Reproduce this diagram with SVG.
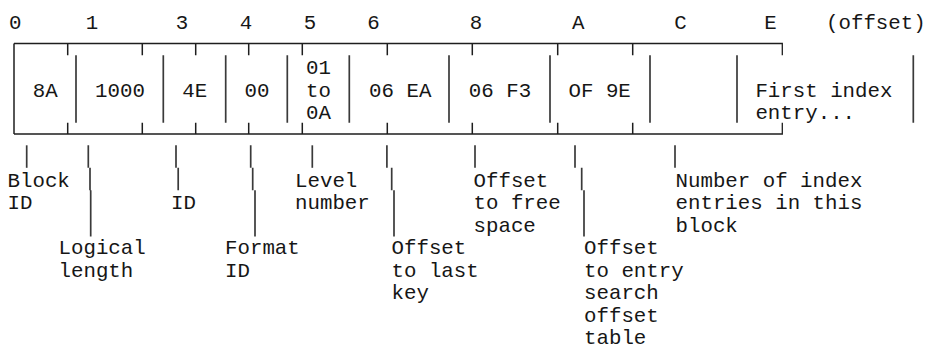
<svg xmlns="http://www.w3.org/2000/svg" width="927" height="350" viewBox="0 0 927 350">
<style>
text{font-family:"Liberation Mono","DejaVu Sans Mono",monospace;font-size:20.77px;fill:#161616}
.c{text-anchor:middle}
.h{stroke:#1e1e1e;stroke-width:1.3;fill:none}
.v{stroke:#3a3a3a;stroke-width:1.7;fill:none}
.t{stroke:#1e1e1e;stroke-width:1.5;fill:none}
.ld{stroke:#3a3a3a;stroke-width:1.7;fill:none}
</style>
<rect width="927" height="350" fill="#fff"/>
<g id="offsets">
<text class="c" x="15.3" y="28.8">0</text>
<text class="c" x="92" y="28.8">1</text>
<text class="c" x="182" y="28.8">3</text>
<text class="c" x="246" y="28.8">4</text>
<text class="c" x="310" y="28.8">5</text>
<text class="c" x="373.5" y="28.8">6</text>
<text class="c" x="476" y="28.8">8</text>
<text class="c" x="578.3" y="28.8">A</text>
<text class="c" x="680.5" y="28.8">C</text>
<text class="c" x="770.5" y="28.8">E</text>
<text x="826" y="28.8">(offset)</text>
</g>
<g id="frame">
<path class="h" d="M14 43.5H782.3V55.3M14 134H782.3V122.8"/>
<path class="t" d="M14 43.5V134"/>
<path class="t" d="M67.7 43.5V55.3M142.3 43.5V55.3M195.7 43.5V55.3M248.7 43.5V55.3M302.3 43.5V55.3M387.3 43.5V55.3M472.3 43.5V55.3M557.7 43.5V55.3M632.7 43.5V55.3"/>
<path class="t" d="M67.7 122.8V134M142.3 122.8V134M195.7 122.8V134M248.7 122.8V134M302.3 122.8V134M387.3 122.8V134M472.3 122.8V134M557.7 122.8V134M632.7 122.8V134"/>
<path class="v" d="M76 55.3V122.8M163.3 55.3V122.8M225.7 55.3V122.8M287.3 55.3V122.8M349.3 55.3V122.8M449 55.3V122.8M550 55.3V122.8M650 55.3V122.8M737 55.3V122.8M913.3 55.3V122.8"/>
</g>
<g id="f-block-id"><text x="32.7" y="96.7">8A</text></g>
<g id="f-logical-length"><text x="95" y="96.7">1000</text></g>
<g id="f-id"><text x="182.2" y="96.7">4E</text></g>
<g id="f-format-id"><text x="244.5" y="96.7">00</text></g>
<g id="f-level"><text x="306" y="74.2">01</text><text x="306" y="96.7">to</text><text x="306" y="119.2">0A</text></g>
<g id="f-last-key"><text x="369.1" y="96.7">06 EA</text></g>
<g id="f-free-space"><text x="468.8" y="96.7">06 F3</text></g>
<g id="f-search-table"><text x="568.5" y="96.7">OF 9E</text></g>
<g id="f-entries"></g>
<g id="f-first-entry"><text x="755.4" y="96.7">First index</text><text x="755.4" y="119.2">entry...</text></g>
<g id="connectors">
<path class="ld" d="M26.7 145.3V167.8"/>
<path class="ld" d="M88.3 145.3V167.8M90 167.8V190.3M90.7 190.3V236.5"/>
<path class="ld" d="M176 145.3V167.8M178.2 167.8V190.3"/>
<path class="ld" d="M250.7 145.3V167.8M252.7 167.8V190.3M255 190.3V236.5"/>
<path class="ld" d="M312.3 145.3V167.8"/>
<path class="ld" d="M386.9 145.3V167.8M391.7 167.8V190.3M394 190.3V236.5"/>
<path class="ld" d="M475 145.3V167.8"/>
<path class="ld" d="M575 145.3V167.8M581.7 167.8V190.3M584 190.3V236.5"/>
<path class="ld" d="M675 145.3V167.8"/>
</g>
<g id="l-block-id"><text x="7.5" y="186.7">Block</text><text x="7.5" y="209.2">ID</text></g>
<g id="l-logical-length"><text x="58.5" y="254.2">Logical</text><text x="58.5" y="276.7">length</text></g>
<g id="l-id"><text x="171" y="209.2">ID</text></g>
<g id="l-format-id"><text x="225" y="254.2">Format</text><text x="225" y="276.7">ID</text></g>
<g id="l-level"><text x="295" y="186.7">Level</text><text x="295" y="209.2">number</text></g>
<g id="l-last-key"><text x="391.5" y="254.2">Offset</text><text x="391.5" y="276.7">to last</text><text x="391.5" y="299.2">key</text></g>
<g id="l-free-space"><text x="473.5" y="186.7">Offset</text><text x="473.5" y="209.2">to free</text><text x="473.5" y="231.7">space</text></g>
<g id="l-search-table"><text x="584" y="254.2">Offset</text><text x="584" y="276.7">to entry</text><text x="584" y="299.2">search</text><text x="584" y="321.7">offset</text><text x="584" y="344.2">table</text></g>
<g id="l-entries"><text x="675.5" y="186.7">Number of index</text><text x="675.5" y="209.2">entries in this</text><text x="675.5" y="231.7">block</text></g>
</svg>
